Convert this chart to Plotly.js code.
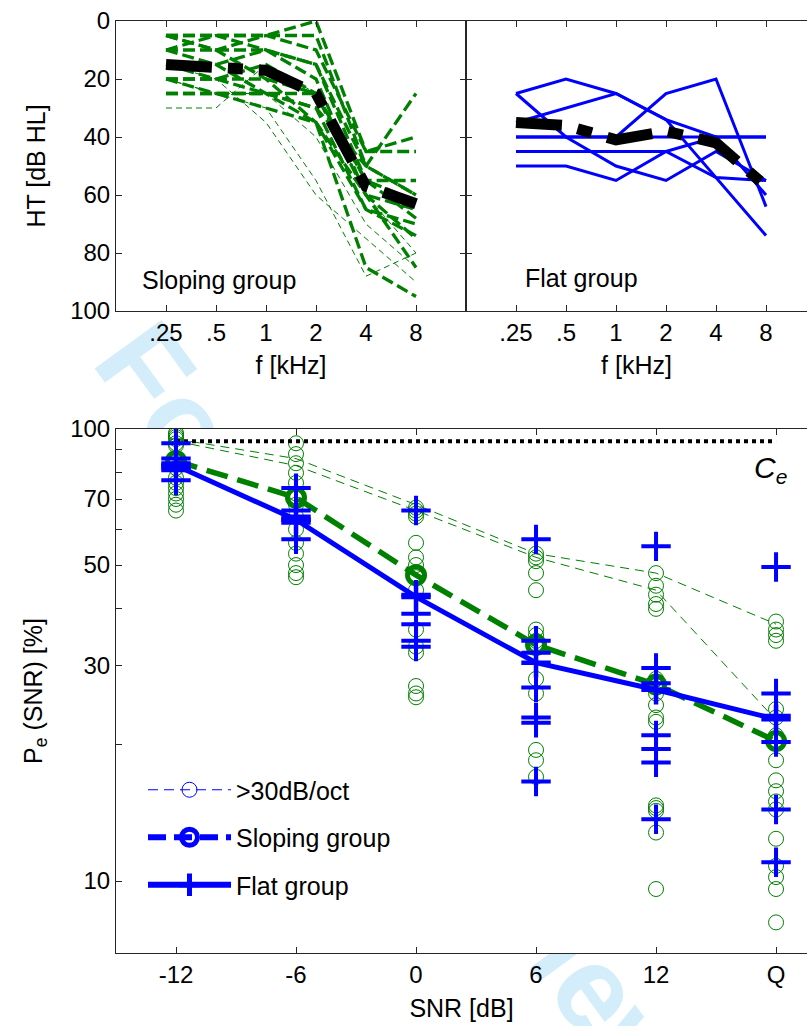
<!DOCTYPE html>
<html><head><meta charset="utf-8">
<script src="https://cdn.plot.ly/plotly-3.0.1.min.js"></script>
<style>
html,body{margin:0;padding:0;background:#fff;overflow:hidden;width:807px;height:1026px;}
#wm{position:absolute;left:0;top:0;z-index:0;}
#plot{position:absolute;left:0;top:0;width:807px;height:1026px;z-index:1;}
</style></head><body>
<svg id="wm" width="807" height="1026"><text x="90" y="362" transform="rotate(54 90 362)" font-family="Liberation Sans, Arial, sans-serif" font-weight="bold" font-size="120" fill="#d3edfb">For Peer Review</text></svg>
<div id="plot"></div>
<script>
// ---------- top panels: hearing thresholds ----------
const freqLabels = ['.25', '.5', '1', '2', '4', '8'];
const slopeHT = [
  [5, 5, 5, 0, 45, 45],
  [5, 5, 5, 5, 50, 25],
  [5, 10, 5, 10, 45, 40],
  [10, 10, 10, 15, 55, 55],
  [10, 5, 10, 15, 50, 60],
  [15, 15, 10, 20, 60, 65],
  [15, 20, 20, 25, 55, 68],
  [20, 20, 15, 25, 60, 75],
  [20, 25, 25, 30, 65, 70],
  [25, 25, 25, 25, 55, 62],
  [25, 25, 30, 35, 60, 85],
  [10, 15, 25, 35, 85, 95],
  [20, 20, 25, 30, 50, 60],
  [5, 10, 20, 35, 65, 74]
];
const steepHT = [
  [30, 30, 15, 25, 60, 80],
  [20, 25, 30, 55, 88, 80],
  [15, 20, 35, 60, 75, 90],
  [20, 25, 25, 40, 70, 85]
];
const slopeMeanHT = [15, 16, 17, 25, 57, 63];
const flatHT = [
  [25, 20, 25, 34, 40, 40],
  [25, 40, 50, 55, 45, 55],
  [35, 30, 25, 34, 54, 74],
  [40, 40, 40, 25, 20, 64],
  [45, 45, 45, 45, 40, 60],
  [50, 50, 55, 45, 54, 55],
  [40, 40, 40, 40, 40, 40]
];
const flatMeanHT = [35, 36, 41, 38, 42, 57];

// ---------- bottom panel: Pe(SNR) ----------
const snrLabels = ['-12', '-6', '0', '6', '12', 'Q'];
const slopeIndivPe = [
  [98, 97, 96, 95, 93, 92, 85, 82, 78, 76, 74, 72, 70, 68, 66],
  [93, 88, 84, 80, 76, 72, 68, 64, 60, 56, 53, 50, 48, 47],
  [67, 66, 65, 64, 56, 52, 50, 47, 44, 36, 33, 32, 27, 26, 25.5],
  [53, 52, 51, 48, 44, 36, 35, 34, 28, 26, 19.5, 18.5, 17],
  [48, 45, 43, 41, 40, 28, 27, 26, 24.5, 23, 22.5, 14.7, 14.5, 14.3, 12.8, 9.6],
  [37.5, 36, 35, 34, 24, 23, 21, 20.4, 18.5, 16.7, 15.8, 15, 14.4, 12.4, 10.8, 10.2, 9.6, 8.1]
];
const flatIndivPe = [
  [93, 86, 84, 83, 82, 81, 77],
  [74, 66, 64, 63, 62, 57],
  [66, 43, 39, 37, 34, 33],
  [57, 34, 32, 26.8, 23, 22.4, 16.6],
  [55, 29.6, 27.4, 21, 19.6, 18.3, 13.7],
  [49.5, 26, 23.2, 20.3, 14.4, 11]
];
const steepPe = [
  [95, 86, 68, 53, 48, 37],
  [94, 83, 66, 52, 44, 22.7]
];
const slopeMeanPe = [85, 70.5, 47.5, 33.3, 27.2, 20.4];
const flatMeanPe = [83, 63, 42.5, 30.4, 26.5, 22.8];
const cePe = 94;

const GREEN = '#008000', BLUE = '#0000ff', AX = '#262626';
const FONT = 'Liberation Sans, Arial, Helvetica, sans-serif';
const traces = [];

// top-left
steepHT.forEach(v => traces.push({x: freqLabels, y: v, xaxis: 'x', yaxis: 'y', mode: 'lines', showlegend: false,
  line: {color: GREEN, width: 1, dash: '6px,4px'}}));
slopeHT.forEach(v => traces.push({x: freqLabels, y: v, xaxis: 'x', yaxis: 'y', mode: 'lines', showlegend: false,
  line: {color: GREEN, width: 3.3, dash: '12px,5px'}}));
traces.push({x: freqLabels, y: slopeMeanHT, xaxis: 'x', yaxis: 'y', mode: 'lines', showlegend: false,
  line: {color: '#000', width: 11, dash: '46px,16px,15px,16px'}});
// top-right
flatHT.forEach(v => traces.push({x: freqLabels, y: v, xaxis: 'x2', yaxis: 'y2', mode: 'lines', showlegend: false,
  line: {color: BLUE, width: 3}}));
traces.push({x: freqLabels, y: flatMeanHT, xaxis: 'x2', yaxis: 'y2', mode: 'lines', showlegend: false,
  line: {color: '#000', width: 11, dash: '46px,16px,15px,16px'}});

// bottom
const sx = [], sy = [];
slopeIndivPe.forEach((arr, i) => arr.forEach(v => { sx.push(snrLabels[i]); sy.push(v); }));
traces.push({x: sx, y: sy, xaxis: 'x3', yaxis: 'y3', mode: 'markers', showlegend: false,
  marker: {symbol: 'circle-open', size: 15, color: GREEN, line: {width: 1, color: GREEN}}});
steepPe.forEach(v => traces.push({x: snrLabels, y: v, xaxis: 'x3', yaxis: 'y3', mode: 'lines', showlegend: false,
  line: {color: GREEN, width: 1, dash: '9px,6px'}}));
traces.push({x: [snrLabels[0], snrLabels[snrLabels.length - 1]], y: [cePe, cePe], xaxis: 'x3', yaxis: 'y3',
  mode: 'lines', showlegend: false, line: {color: '#000', width: 4, dash: 'dot'}});
traces.push({x: snrLabels, y: slopeMeanPe, xaxis: 'x3', yaxis: 'y3', mode: 'lines+markers', showlegend: false,
  line: {color: GREEN, width: 5.5, dash: '22px,10px'},
  marker: {symbol: 'circle-open', size: 17, color: GREEN, line: {width: 5, color: GREEN}}});
const fx = [], fy = [];
flatIndivPe.forEach((arr, i) => arr.forEach(v => { fx.push(snrLabels[i]); fy.push(v); }));
traces.push({x: snrLabels, y: flatMeanPe, xaxis: 'x3', yaxis: 'y3', mode: 'lines+markers', showlegend: false,
  line: {color: BLUE, width: 5},
  marker: {symbol: 'cross-thin-open', size: 21, color: BLUE, line: {width: 4.5, color: BLUE}}});
traces.push({x: fx, y: fy, xaxis: 'x3', yaxis: 'y3', mode: 'markers', showlegend: false,
  marker: {symbol: 'cross-thin-open', size: 21, color: BLUE, line: {width: 4, color: BLUE}}});

// legend entries (drawn in blue as in the original)
traces.push({x: [null], y: [null], xaxis: 'x3', yaxis: 'y3', mode: 'lines+markers', name: '>30dB/oct', legendgroup: 'a',
  line: {color: BLUE, width: 1, dash: '10px,6px'}, marker: {symbol: 'circle-open', size: 15, color: BLUE, line: {width: 1, color: BLUE}}});
traces.push({x: [null], y: [null], xaxis: 'x3', yaxis: 'y3', mode: 'lines+markers', name: 'Sloping group', legendgroup: 'b',
  line: {color: BLUE, width: 6, dash: '18px,8px'}, marker: {symbol: 'circle-open', size: 16, color: BLUE, line: {width: 5, color: BLUE}}});
traces.push({x: [null], y: [null], xaxis: 'x3', yaxis: 'y3', mode: 'lines+markers', name: 'Flat group', legendgroup: 'c',
  line: {color: BLUE, width: 6}, marker: {symbol: 'cross-thin-open', size: 16, color: BLUE, line: {width: 5, color: BLUE}}});

const W = 807, H = 1026;
const xl = 116 / W, xm = 466 / W;
const topDom = [1 - 311 / H, 1 - 21 / H];
const botDom = [1 - 953 / H, 1 - 429 / H];
const axBase = {showline: true, linecolor: AX, linewidth: 1, ticks: 'inside', ticklen: 6, tickcolor: AX,
  showgrid: false, zeroline: false, tickfont: {size: 24, color: '#000', family: FONT}};

const layout = {
  width: W, height: H, margin: {l: 0, r: 0, t: 0, b: 0},
  paper_bgcolor: 'rgba(0,0,0,0)', plot_bgcolor: '#fff',
  font: {family: FONT, color: '#000', size: 24},
  showlegend: true,
  legend: {x: 143 / W, y: 1 - 767 / H, xanchor: 'left', yanchor: 'top', bgcolor: 'rgba(0,0,0,0)',
    font: {size: 25, family: FONT}, itemwidth: 83, tracegroupgap: 12, traceorder: 'grouped'},
  xaxis: Object.assign({}, axBase, {domain: [xl, xm], anchor: 'y', type: 'category', categoryorder: 'array', categoryarray: freqLabels,
    range: [-1, 6], mirror: 'ticks', title: {text: 'f [kHz]', font: {size: 25}, standoff: 11}}),
  yaxis: Object.assign({}, axBase, {domain: topDom, anchor: 'x', range: [100, 0], tickvals: [0, 20, 40, 60, 80, 100],
    mirror: 'ticks', title: {text: 'HT [dB HL]', font: {size: 25}, standoff: 17}}),
  xaxis2: Object.assign({}, axBase, {domain: [xm, 1], anchor: 'y2', type: 'category', categoryorder: 'array', categoryarray: freqLabels,
    range: [-1, 5.82], mirror: 'ticks', title: {text: 'f [kHz]', font: {size: 25}, standoff: 11}}),
  yaxis2: Object.assign({}, axBase, {domain: topDom, anchor: 'x2', range: [100, 0], tickvals: [20, 40, 60, 80],
    showticklabels: false, mirror: false}),
  xaxis3: Object.assign({}, axBase, {domain: [xl, 1], anchor: 'y3', type: 'category', categoryorder: 'array', categoryarray: snrLabels,
    range: [-0.5, 5.258], mirror: 'ticks', title: {text: 'SNR [dB]', font: {size: 25}, standoff: 12}}),
  yaxis3: Object.assign({}, axBase, {domain: botDom, anchor: 'x3', type: 'log', range: [Math.log10(6.93), 2],
    tickvals: [10, 20, 30, 40, 50, 60, 70, 80, 90, 100],
    ticktext: ['10', '', '30', '', '50', '', '70', '', '', '100'],
    mirror: false, title: {text: 'P<sub>e</sub> (SNR) [%]', font: {size: 25}, standoff: 20}}),
  annotations: [
    {xref: 'paper', yref: 'paper', x: 140 / W, y: 1 - 280 / H, xanchor: 'left', yanchor: 'middle', showarrow: false,
      text: 'Sloping group', font: {size: 25}},
    {xref: 'paper', yref: 'paper', x: 523 / W, y: 1 - 278 / H, xanchor: 'left', yanchor: 'middle', showarrow: false,
      text: 'Flat group', font: {size: 25}},
    {xref: 'paper', yref: 'paper', x: 770 / W, y: 1 - 470 / H, xanchor: 'center', yanchor: 'middle', showarrow: false,
      text: '<i>C<sub>e</sub></i>', font: {size: 30}}
  ]
};

Plotly.newPlot('plot', traces, layout, {staticPlot: true, displayModeBar: false});
</script>
</body></html>
